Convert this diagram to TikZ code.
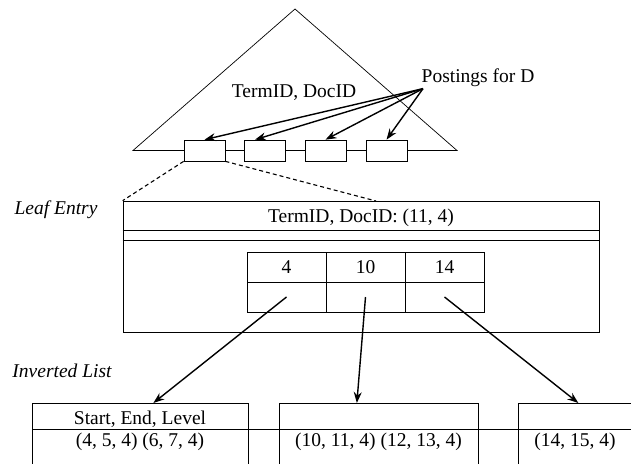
\documentclass[tikz,border=0pt]{standalone}
\usepackage{fontspec}
\setmainfont{Liberation Serif}
\usetikzlibrary{arrows.meta}
\usetikzlibrary{calc}
\usetikzlibrary{positioning}

\begin{document}
\begin{tikzpicture}[x=1pt,y=-1pt,line width=0.7pt,
		every node/.style={font=\fontsize{19.5}{22}\selectfont},
		slot/.style={draw,fill=white,minimum width=41pt,minimum height=21pt,inner sep=0pt},
		cell/.style={draw,minimum width=79pt,minimum height=30pt,inner sep=0pt,outer sep=0pt},
		listbox/.style={draw,anchor=north west,minimum height=90pt,inner sep=0pt},
		ptr/.style={-{Stealth[length=11pt,width=8pt]},line width=1.4pt}]
			
			% Frame
			\clip (0,0) rectangle (631,463);
			
			% Tree
			\coordinate (apex) at (295,9);
			\coordinate (bl) at (133,150.5);
			\coordinate (br) at (457,150.5);
			\draw (bl) -- (apex) -- (br) -- cycle;
			
			% Leaf slots
			\node[slot] (s1) at (204.5,150.5) {};
			\node[slot] (s2) at (265,150.5) {};
			\node[slot] (s3) at (325.5,150.5) {};
			\node[slot] (s4) at (386.5,150.5) {};
			
			\node (tree) at (294,93) {TermID, DocID};
			\node (post) at (478,78) {Postings for D};
			
			\draw[ptr] ([xshift=5pt,yshift=2pt]post.south west) -- (s1.north);
			\draw[ptr] ([xshift=5pt,yshift=2pt]post.south west) -- ([xshift=-10pt]s2.north);
			\draw[ptr] ([xshift=5pt,yshift=2pt]post.south west) -- (s3.north);
			\draw[ptr] ([xshift=5pt,yshift=2pt]post.south west) -- (s4.north);
			
			% Leaf entry
			\node[draw,minimum width=476pt,minimum height=131pt,inner sep=0pt] (leaf) at (361,266.5) {};
			\draw ($(leaf.north west)+(0,30)$) -- ($(leaf.north east)+(0,30)$);
			\draw ($(leaf.north west)+(0,40)$) -- ($(leaf.north east)+(0,40)$);
			\node (key) at ($(leaf.north)+(0,17)$) {TermID, DocID: (11, 4)};
			\node[font=\fontsize{19.5}{22}\selectfont\itshape] (leaflbl) at (56,210) {Leaf Entry};
			
			\coordinate (cut) at (376,201);
			\draw[dash pattern=on 4pt off 3pt,line width=1.1pt] (s1.south west) -- (leaf.north west);
			\draw[dash pattern=on 4pt off 3pt,line width=1.1pt] (s1.south east) -- (cut);
			
			% Offsets table
			\node[cell] (k1) at (286.5,267) {4};
			\node[cell,right=0pt of k1] (k2) {10};
			\node[cell,right=0pt of k2] (k3) {14};
			\node[cell,below=0pt of k1] (v1) {};
			\node[cell,below=0pt of k2] (v2) {};
			\node[cell,below=0pt of k3] (v3) {};
			
			% Inverted list
			\node[font=\fontsize{19.5}{22}\selectfont\itshape] (invlbl) at (62,371) {Inverted List};
			\node[listbox,minimum width=216pt] (inv1) at (32,403) {};
			\node[listbox,minimum width=199pt] (inv2) at (279,403) {};
			\node[listbox,minimum width=130pt] (inv3) at (518,403) {};
			\draw ($(inv1.north west)+(0,26)$) -- ($(inv3.north east)+(0,26)$);
			
			\node (fmt) at (140,419) {Start, End, Level};
			\node (p1) at (140,442) {(4, 5, 4) (6, 7, 4)};
			\node (p2) at (378.5,442) {(10, 11, 4) (12, 13, 4)};
			\node (p3) at (575,442) {(14, 15, 4)};
			
			\draw[ptr] (v1.center) -- ([xshift=13pt]inv1.north);
			\draw[ptr] (v2.center) -- ([xshift=-22pt]inv2.north);
			\draw[ptr] (v3.center) -- ([xshift=-5pt]inv3.north);
			
		\end{tikzpicture}
\end{document}
